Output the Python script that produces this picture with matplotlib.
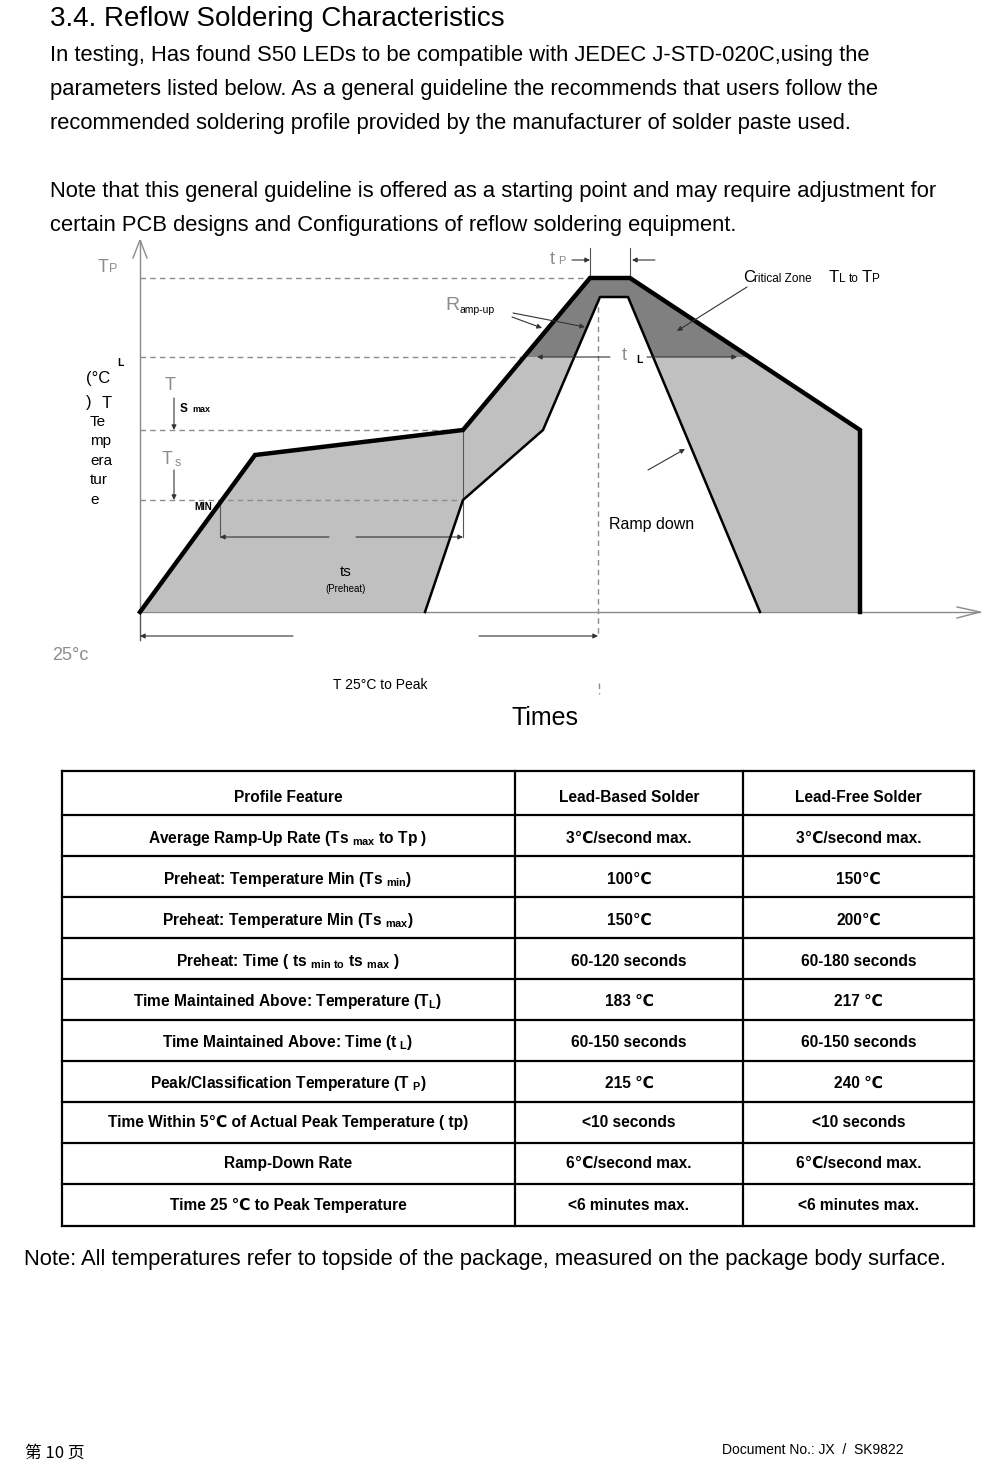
import matplotlib.pyplot as plt
from matplotlib.patches import Polygon, Rectangle

plt.rcParams['font.family'] = ['Liberation Sans', 'DejaVu Sans', 'Noto Sans CJK SC']
plt.rcParams['mathtext.fontset'] = 'custom'
plt.rcParams['mathtext.rm'] = 'Liberation Sans:bold'
plt.rcParams['mathtext.bf'] = 'Liberation Sans:bold'

title = "3.4. Reflow Soldering Characteristics"
intro_lines = [
    "In testing, Has found S50 LEDs to be compatible with JEDEC J-STD-020C,using the",
    "parameters listed below. As a general guideline the recommends that users follow the",
    "recommended soldering profile provided by the manufacturer of solder paste used.",
    "",
    "Note that this general guideline is offered as a starting point and may require adjustment for",
    "certain PCB designs and Configurations of reflow soldering equipment.",
]
note_text = "Note: All temperatures refer to topside of the package, measured on the package body surface."

# schematic profile: time from start, temperature above the 25C baseline
outer_time = [0, 115, 323, 450, 490, 720, 720]
outer_temp = [0, 157, 182, 334, 334, 182, 0]
inner_time = [285, 323, 403, 460, 488, 620]
inner_temp = [0, 112, 182, 315, 315, 0]
level_tp = 334
level_tl = 255
level_ts_max = 182
level_ts_min = 112
peak_time = 458

table_header = ["Profile Feature", "Lead-Based Solder", "Lead-Free Solder"]
features = [
    r"Average Ramp-Up Rate (Ts ${}_{\mathrm{max}}$ to Tp )",
    r"Preheat: Temperature Min (Ts ${}_{\mathrm{min}}$)",
    r"Preheat: Temperature Min (Ts ${}_{\mathrm{max}}$)",
    r"Preheat: Time ( ts ${}_{\mathrm{min\ to}}$ ts ${}_{\mathrm{max}}$ )",
    r"Time Maintained Above: Temperature (T${}_{\mathrm{L}}$)",
    r"Time Maintained Above: Time (t ${}_{\mathrm{L}}$)",
    r"Peak/Classification Temperature (T ${}_{\mathrm{P}}$)",
    "Time Within 5℃ of Actual Peak Temperature ( tp)",
    "Ramp-Down Rate",
    "Time 25 ℃ to Peak Temperature",
]
lead_based = ["3℃/second max.", "100℃", "150℃", "60-120 seconds", "183 ℃",
              "60-150 seconds", "215 ℃", "<10 seconds", "6℃/second max.", "<6 minutes max."]
lead_free = ["3℃/second max.", "150℃", "200℃", "60-180 seconds", "217 ℃",
             "60-150 seconds", "240 ℃", "<10 seconds", "6℃/second max.", "<6 minutes max."]

fig = plt.figure(figsize=(10, 14.65), dpi=100)
ax = fig.add_axes([0, 0, 1, 1])
ax.set_xlim(0, 1000)
ax.set_ylim(1465, 0)
ax.axis('off')

# page text
ax.text(50, 19, title, fontsize=20, va='center')
for i, line in enumerate(intro_lines):
    ax.text(50, 55 + i * 34, line, fontsize=15.8, va='center')
ax.text(24, 1259, note_text, fontsize=15.8, va='center')
ax.text(25, 1453, "第 10 页", fontsize=12, va='center',
        family=['Noto Sans CJK SC', 'DejaVu Sans'])
ax.text(722, 1450, "Document No.: JX  /  SK9822", fontsize=10, va='center')

# table
col_edges = [62, 515, 743, 974]
row_edges = [771, 815, 856, 897, 938, 979, 1020, 1061, 1102, 1143, 1184, 1226]
for y in row_edges:
    ax.plot([col_edges[0], col_edges[-1]], [y, y], color='black', lw=1.6)
for x in col_edges:
    ax.plot([x, x], [row_edges[0], row_edges[-1]], color='black', lw=1.6)
col_mid = [(col_edges[i] + col_edges[i + 1]) / 2 for i in range(3)]
col_mid[0] = 288
for j, h in enumerate(table_header):
    ax.text(col_mid[j], (row_edges[0] + row_edges[1]) / 2 + 4, h, fontsize=11.2,
            fontweight='bold', ha='center', va='center')
row_shift = [3, 3, 3, 3, 2, 2, 2, 0, 0, 0]
for i in range(len(features)):
    yc = (row_edges[i + 1] + row_edges[i + 2]) / 2 + row_shift[i]
    ax.text(col_mid[0], yc, features[i], fontsize=11.2, fontweight='bold', ha='center', va='center')
    ax.text(col_mid[1], yc, lead_based[i], fontsize=11.2, fontweight='bold', ha='center', va='center')
    ax.text(col_mid[2], yc, lead_free[i], fontsize=11.2, fontweight='bold', ha='center', va='center')

# reflow diagram
dax = fig.add_axes([0, 1 - 740 / 1465, 1, 500 / 1465])
dax.set_xlim(-140, 860)
dax.set_ylim(-128, 372)
dax.axis('off')

axis_gray = '#8a8a8a'
dash_gray = '#8c8c8c'
light = '#c0c0c0'
dark = '#808080'

band = list(zip(outer_time, outer_temp)) + list(zip(inner_time, inner_temp))[::-1]
dax.add_patch(Polygon(band, closed=True, facecolor=light, edgecolor='none', zorder=2))
crit = Polygon(band, closed=True, facecolor=dark, edgecolor='none', zorder=2.1)
dax.add_patch(crit)
crit.set_clip_path(Rectangle((-140, level_tl), 1000, 200, transform=dax.transData))

dax.plot(outer_time, outer_temp, color='black', lw=3.2, solid_joinstyle='miter', zorder=5)
dax.plot(inner_time, inner_temp, color='black', lw=1.8, zorder=4)

# axes with open arrowheads
dax.plot([0, 0], [-28, 372], color=axis_gray, lw=1, zorder=1)
dax.plot([-7, 0, 7], [354, 372, 354], color=axis_gray, lw=1)
dax.plot([0, 840], [0, 0], color=axis_gray, lw=1, zorder=1)
dax.plot([817, 840, 817], [5, 0, -6], color=axis_gray, lw=1)

# level lines
dash = dict(color=dash_gray, lw=1, linestyle=(0, (4, 3)), zorder=3)
dax.plot([0, outer_time[3]], [level_tp, level_tp], **dash)
dax.plot([0, 388], [level_tl, level_tl], **dash)
dax.plot([0, outer_time[2]], [level_ts_max, level_ts_max], **dash)
dax.plot([0, outer_time[2]], [level_ts_min, level_ts_min], **dash)
dax.plot([peak_time, peak_time], [inner_temp[3], -24], **dash)
dax.plot([peak_time + 1, peak_time + 1], [-71, -82], **dash)

arrow = dict(arrowstyle='-|>', color='#333333', lw=0.8, mutation_scale=7, shrinkA=0, shrinkB=0)
thin = dict(color='#555555', lw=0.8, zorder=3)

# preheat bracket
dax.plot([outer_time[2], outer_time[2]], [level_ts_max, 75], **thin)
dax.plot([80, 80], [level_ts_min, 75], **thin)
dax.annotate('', xy=(80, 75), xytext=(189, 75), arrowprops=arrow, zorder=3)
dax.annotate('', xy=(323, 75), xytext=(216, 75), arrowprops=arrow, zorder=3)

# 25C to peak bracket
dax.plot([0, 0], [0, -28], **thin)
dax.annotate('', xy=(0, -24), xytext=(153, -24), arrowprops=arrow)
dax.annotate('', xy=(peak_time, -24), xytext=(339, -24), arrowprops=arrow)

# tP bracket
dax.plot([450, 450], [334, 364], **thin)
dax.plot([490, 490], [334, 364], **thin)
dax.annotate('', xy=(450, 352), xytext=(432, 352), arrowprops=arrow)
dax.annotate('', xy=(492, 352), xytext=(515, 352), arrowprops=arrow)

# tL bracket
dax.annotate('', xy=(397, level_tl), xytext=(470, level_tl), arrowprops=arrow, zorder=6)
dax.annotate('', xy=(597, level_tl), xytext=(507, level_tl), arrowprops=arrow, zorder=6)

# pointers
dax.annotate('', xy=(445, 285), xytext=(373, 299), arrowprops=arrow, zorder=6)
dax.annotate('', xy=(402, 284), xytext=(372, 295), arrowprops=arrow, zorder=6)
dax.annotate('', xy=(537, 281), xytext=(607, 325), arrowprops=arrow, zorder=6)
dax.annotate('', xy=(545, 163), xytext=(508, 142), arrowprops=arrow, zorder=6)
dax.annotate('', xy=(34, level_ts_max), xytext=(34, 214), arrowprops=arrow)
dax.annotate('', xy=(34, level_ts_min), xytext=(34, 142), arrowprops=arrow)

gray_txt = '#8c8c8c'
narrow = ['Liberation Sans Narrow', 'Liberation Sans', 'DejaVu Sans']

# axis labels
dax.text(-42, 345, "T", fontsize=13, color=gray_txt, va='center')
dax.text(-31, 343, "P", fontsize=9, color=gray_txt, va='center')
dax.text(-88, -44, "25°c", fontsize=13, color=gray_txt, va='center')
dax.text(-54, 234, "(°C", fontsize=12, va='center', family=narrow)
dax.text(-54, 209, ")", fontsize=12, va='center', family=narrow)
dax.text(-38, 209, "T", fontsize=12, va='center', family=narrow)
dax.text(-23, 249, "L", fontsize=7.5, fontweight='bold', va='center')
for k, part in enumerate(["Te", "mp", "era", "tur", "e"]):
    dax.text(-50, 190 - k * 19.5, part, fontsize=11, va='center', family=narrow)

dax.text(25, 226, "T", fontsize=13, color=gray_txt, va='center')
dax.text(40, 203, "S", fontsize=8.5, fontweight='bold', va='center')
dax.text(52, 202, "max", fontsize=6.5, fontweight='bold', va='center')
dax.text(22, 153, "T", fontsize=13, color=gray_txt, va='center')
dax.text(35, 149, "s", fontsize=9, color=gray_txt, va='center')
dax.text(54, 105, "MIN", fontsize=7, fontweight='bold', va='center', zorder=4.5)

dax.text(410, 353, "t", fontsize=13, color=gray_txt, va='center')
dax.text(418, 351, "P", fontsize=8, color=gray_txt, va='center')
dax.text(305, 307, "R", fontsize=14, color=gray_txt, va='center')
dax.text(320, 302, "amp-up", fontsize=7.5, va='center')
dax.text(482, 256, "t", fontsize=13, color=gray_txt, va='center')
dax.text(496, 252, "L", fontsize=7.5, fontweight='bold', va='center')

dax.text(603, 334, "C", fontsize=12, va='center')
dax.text(614, 333, "ritical Zone", fontsize=8.5, va='center')
dax.text(689, 335, "T", fontsize=12, va='center')
dax.text(699, 333, "L", fontsize=8.5, va='center')
dax.text(709, 333, "to", fontsize=8.5, va='center')
dax.text(722, 335, "T", fontsize=12, va='center')
dax.text(732, 333, "P", fontsize=8.5, va='center')

dax.text(469, 87, "Ramp down", fontsize=11.5, va='center')
dax.text(206, 40, "ts", fontsize=11, ha='center', va='center', zorder=6)
dax.text(206, 23, "(Preheat)", fontsize=7, ha='center', va='center', zorder=6)
dax.text(240, -73, "T 25°C to Peak", fontsize=10, ha='center', va='center')
dax.text(405, -106, "Times", fontsize=18, ha='center', va='center')

fig.savefig("out.png", dpi=100)
